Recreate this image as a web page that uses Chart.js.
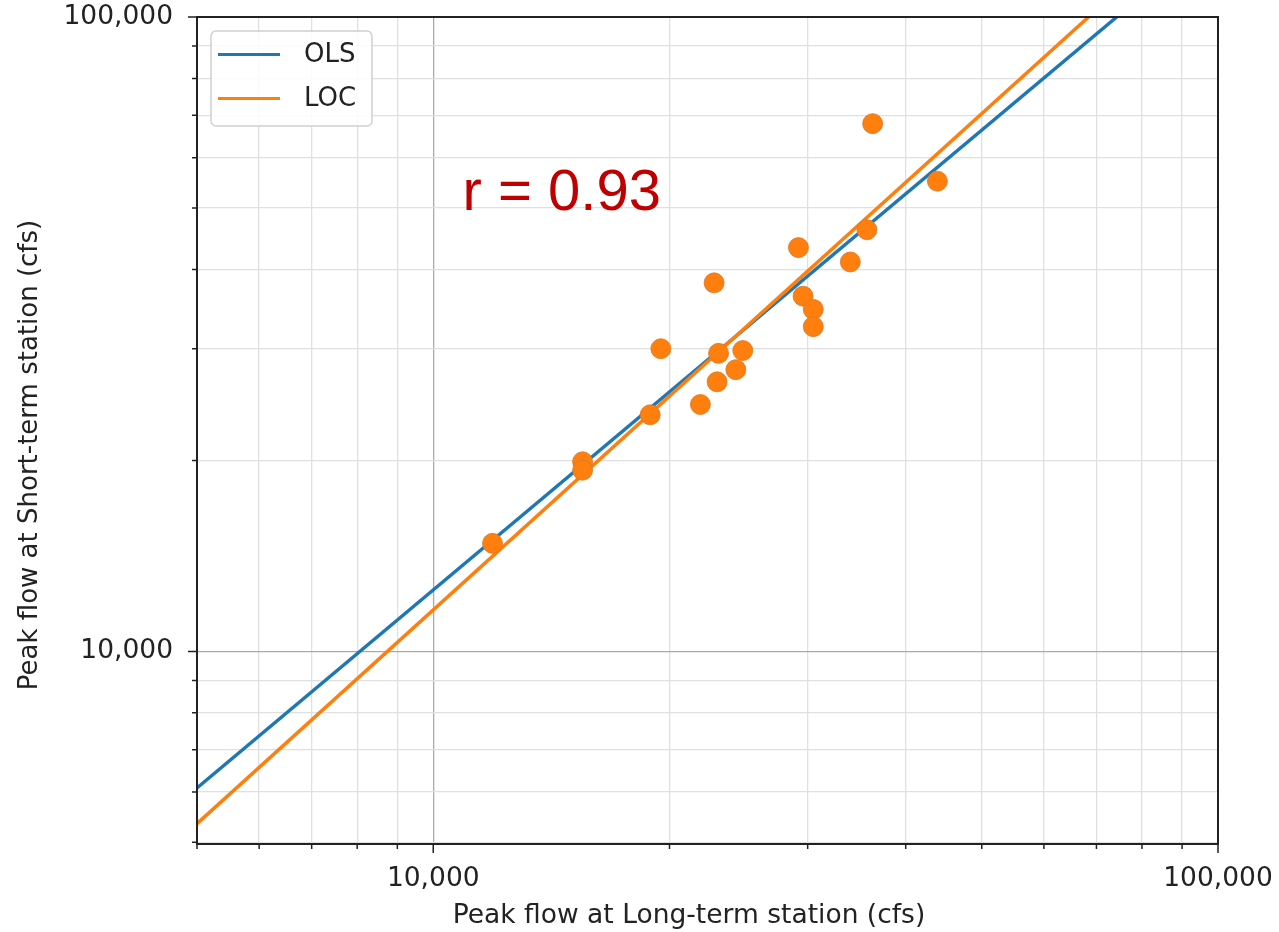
<!DOCTYPE html>
<html>
<head>
<meta charset="utf-8">
<script src="https://cdn.jsdelivr.net/npm/chart.js@4.4.0/dist/chart.umd.min.js"></script>
<style>
  body { margin: 0; background: #fff; }
  #wrap { width: 1279px; height: 932px; }
</style>
</head>
<body>
<div id="wrap"><canvas id="peakChart" width="1279" height="932"></canvas></div>
<script>
// peak flows (cfs)
const longTermFlow  = [11900, 15500, 15500, 18900, 19500, 21900, 22800, 23000, 23100, 24300, 24800, 29200, 29600, 30500, 30500, 34000, 35700, 36300, 43900];
const shortTermFlow = [14800, 19900, 19300, 23600, 30000, 24500, 38100, 26600, 29500, 27800, 29800, 43300, 36300, 34600, 32500, 41100, 46200, 67900, 55100];

// fitted lines (end points)
const olsX = [5000, 74300];
const olsY = [6090, 100000];
const locX = [5000, 68400];
const locY = [5350, 100000];

const xTicks = [5000, 6000, 7000, 8000, 9000, 10000, 20000, 30000, 40000, 50000, 60000, 70000, 80000, 90000, 100000];
const yTicks = [5000, 6000, 7000, 8000, 9000, 10000, 20000, 30000, 40000, 50000, 60000, 70000, 80000, 90000, 100000];

const xTitle = "Peak flow at Long-term station (cfs)";
const yTitle = "Peak flow at Short-term station (cfs)";
const rText = "r = 0.93";
const rAt = [10900, 49700];

const BLUE = "#1f77b4";
const ORANGE = "#ff7f0e";
const INK = "#222222";

const isDecade = (v) => Math.abs(Math.log10(v) - Math.round(Math.log10(v))) < 1e-6;

function toPoints(xs, ys) {
  return xs.map((x, i) => ({ x: x, y: ys[i] }));
}

function roundRect(ctx, x, y, w, h, r) {
  ctx.beginPath();
  ctx.moveTo(x + r, y);
  ctx.lineTo(x + w - r, y);
  ctx.arcTo(x + w, y, x + w, y + r, r);
  ctx.lineTo(x + w, y + h - r);
  ctx.arcTo(x + w, y + h, x + w - r, y + h, r);
  ctx.lineTo(x + r, y + h);
  ctx.arcTo(x, y + h, x, y + h - r, r);
  ctx.lineTo(x, y + r);
  ctx.arcTo(x, y, x + r, y, r);
  ctx.closePath();
}

// frame, tick marks, axis titles, legend box, r label
const extras = {
  id: "extras",
  afterDraw(chart) {
    const { ctx, chartArea: a } = chart;
    const xs = chart.scales.x;
    const ys = chart.scales.y;
    ctx.save();

    ctx.strokeStyle = INK;
    ctx.lineWidth = 1.5;
    ctx.beginPath();
    xs.ticks.forEach((t) => {
      const px = xs.getPixelForValue(t.value);
      ctx.moveTo(px, a.bottom);
      ctx.lineTo(px, a.bottom + (isDecade(t.value) ? 9 : 5));
    });
    ys.ticks.forEach((t) => {
      const py = ys.getPixelForValue(t.value);
      ctx.moveTo(a.left, py);
      ctx.lineTo(a.left - (isDecade(t.value) ? 9 : 5), py);
    });
    ctx.stroke();

    ctx.lineWidth = 2;
    ctx.strokeRect(a.left, a.top, a.right - a.left, a.bottom - a.top);

    // axis titles
    ctx.fillStyle = INK;
    ctx.font = "26.5px 'DejaVu Sans'";
    ctx.textAlign = "center";
    ctx.textBaseline = "alphabetic";
    ctx.fillText(xTitle, 689, 923);

    ctx.save();
    ctx.translate(30, 455);
    ctx.rotate(-Math.PI / 2);
    ctx.font = "26px 'DejaVu Sans'";
    ctx.textBaseline = "middle";
    ctx.fillText(yTitle, 0, 0);
    ctx.restore();

    // r label
    ctx.fillStyle = "#c00000";
    ctx.font = "58px 'Liberation Sans', Arial";
    ctx.textAlign = "left";
    ctx.textBaseline = "alphabetic";
    ctx.fillText(rText, xs.getPixelForValue(rAt[0]), ys.getPixelForValue(rAt[1]));

    // legend
    const lines = chart.data.datasets.filter((d) => d.type === "line");
    roundRect(ctx, 211, 31, 161, 95, 5);
    ctx.fillStyle = "rgba(255,255,255,0.85)";
    ctx.fill();
    ctx.strokeStyle = "#d0d0d0";
    ctx.lineWidth = 1.5;
    ctx.stroke();
    ctx.font = "26px 'DejaVu Sans'";
    ctx.textBaseline = "middle";
    lines.forEach((d, i) => {
      const cy = 54.5 + i * 44;
      ctx.strokeStyle = d.borderColor;
      ctx.lineWidth = 3;
      ctx.beginPath();
      ctx.moveTo(218, cy);
      ctx.lineTo(280, cy);
      ctx.stroke();
      ctx.fillStyle = INK;
      ctx.fillText(d.label, 304, cy + 1);
    });

    ctx.restore();
  }
};

const tickFont = { family: "DejaVu Sans", size: 26.5 };
const gridColor = (c) => (c.tick && isDecade(c.tick.value) ? "#aaaaaa" : "#e0e0e0");

new Chart(document.getElementById("peakChart"), {
  type: "scatter",
  data: {
    datasets: [
      {
        type: "line",
        label: "OLS",
        data: toPoints(olsX, olsY),
        borderColor: BLUE,
        backgroundColor: BLUE,
        borderWidth: 3.5,
        pointRadius: 0,
        order: 2
      },
      {
        type: "line",
        label: "LOC",
        data: toPoints(locX, locY),
        borderColor: ORANGE,
        backgroundColor: ORANGE,
        borderWidth: 3.5,
        pointRadius: 0,
        order: 1
      },
      {
        type: "scatter",
        label: "Peaks",
        data: toPoints(longTermFlow, shortTermFlow),
        backgroundColor: ORANGE,
        borderColor: "rgba(215,120,40,0.8)",
        borderWidth: 1,
        pointRadius: 10,
        order: 0
      }
    ]
  },
  options: {
    responsive: false,
    animation: false,
    devicePixelRatio: 1,
    layout: { autoPadding: false, padding: { top: 17, right: 61, left: 0, bottom: 0 } },
    plugins: {
      legend: { display: false },
      tooltip: { enabled: false }
    },
    scales: {
      x: {
        type: "logarithmic",
        position: "bottom",
        min: 5000,
        max: 100000,
        afterBuildTicks: (s) => { s.ticks = xTicks.map((v) => ({ value: v })); },
        afterFit: (s) => {
          s.height = 88;
          s.paddingLeft = 0;
          s.paddingRight = 0;
        },
        border: { display: false },
        grid: { drawTicks: false, lineWidth: 1.3, color: gridColor },
        ticks: {
          autoSkip: false,
          maxRotation: 0,
          padding: 19,
          color: INK,
          font: tickFont,
          callback: (v) => (isDecade(v) ? Number(v).toLocaleString("en-US") : "")
        }
      },
      y: {
        type: "logarithmic",
        position: "left",
        min: 4970,
        max: 100000,
        afterBuildTicks: (s) => { s.ticks = yTicks.map((v) => ({ value: v })); },
        afterFit: (s) => {
          s.width = 197;
          s.paddingTop = 0;
          s.paddingBottom = 0;
        },
        border: { display: false },
        grid: { drawTicks: false, lineWidth: 1.3, color: gridColor },
        ticks: {
          autoSkip: false,
          padding: 24,
          color: INK,
          font: tickFont,
          callback: (v) => (isDecade(v) ? Number(v).toLocaleString("en-US") : "")
        }
      }
    }
  },
  plugins: [extras]
});
</script>
</body>
</html>
